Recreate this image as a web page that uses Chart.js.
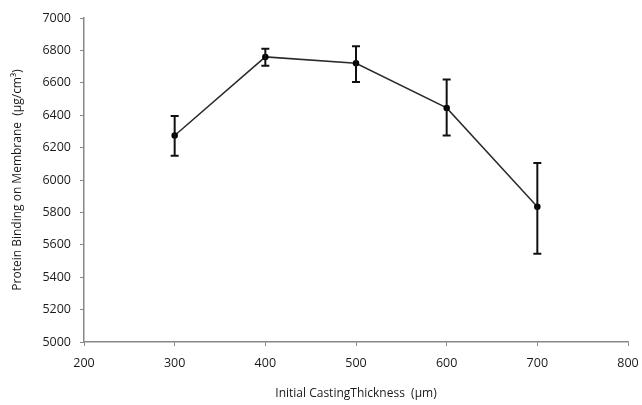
<!DOCTYPE html>
<html>
<head>
<meta charset="utf-8">
<script src="https://cdn.jsdelivr.net/npm/chart.js@4/dist/chart.umd.min.js"></script>
<style>
html,body{margin:0;padding:0;background:#fff;}
#wrap{width:642px;height:405px;}
</style>
</head>
<body>
<div id="wrap"><canvas id="c" width="642" height="405"></canvas></div>
<script>
const thickness = [300, 400, 500, 600, 700];
const binding = [6275, 6760, 6720, 6445, 5835];
const errLow = [6150, 6705, 6605, 6275, 5545];
const errHigh = [6395, 6810, 6825, 6620, 6105];
const xTitle = 'Initial CastingThickness  (\u00b5m)';
const yTitle = 'Protein Binding on Membrane  (\u00b5g/cm\u00b3)';

const errorBars = {
  id: 'errorBars',
  afterDatasetsDraw(chart) {
    const ctx = chart.ctx, xs = chart.scales.x, ys = chart.scales.y;
    ctx.save();
    ctx.strokeStyle = '#111';
    ctx.lineWidth = 2;
    thickness.forEach((t, i) => {
      const x = xs.getPixelForValue(t);
      const y1 = ys.getPixelForValue(errHigh[i]);
      const y2 = ys.getPixelForValue(errLow[i]);
      ctx.beginPath();
      ctx.moveTo(x, y1); ctx.lineTo(x, y2);
      ctx.moveTo(x - 4, y1); ctx.lineTo(x + 4, y1);
      ctx.moveTo(x - 4, y2); ctx.lineTo(x + 4, y2);
      ctx.stroke();
    });
    ctx.restore();
  }
};

const tickFont = {family: 'Open Sans', size: 12.5};
const titleFont = {family: 'Open Sans', size: 12};

new Chart(document.getElementById('c'), {
  type: 'scatter',
  data: {
    datasets: [{
      data: thickness.map((t, i) => ({x: t, y: binding[i]})),
      showLine: true,
      borderColor: '#2a2a2a',
      borderWidth: 1.5,
      pointRadius: 2.5,
      pointBackgroundColor: '#000',
      pointBorderColor: '#000'
    }]
  },
  options: {
    responsive: false,
    animation: false,
    layout: {padding: {top: 18, right: 14, left: 0, bottom: 0}},
    plugins: {legend: {display: false}, tooltip: {enabled: false}},
    scales: {
      x: {
        type: 'linear', min: 200, max: 800,
        ticks: {stepSize: 100, color: '#1a1a1a', font: tickFont, padding: 10, callback: v => String(v)},
        grid: {drawOnChartArea: false, drawTicks: true, tickLength: 4, color: '#888'},
        border: {display: true, color: '#888', width: 1.5},
        title: {display: true, text: xTitle, color: '#1a1a1a', font: titleFont, padding: {top: 13}},
        afterFit(s) { s.height = 63; s.paddingRight = 0; s.paddingLeft = 0; }
      },
      y: {
        min: 5000, max: 7000,
        ticks: {stepSize: 200, color: '#1a1a1a', font: tickFont, padding: 9, callback: v => String(v)},
        grid: {drawOnChartArea: false, drawTicks: true, tickLength: 4, color: '#888'},
        border: {display: true, color: '#888', width: 1.5},
        title: {display: true, text: yTitle, color: '#1a1a1a', font: titleFont, padding: {top: 10, bottom: 0}},
        afterFit(s) { s.width = 84; }
      }
    }
  },
  plugins: [errorBars]
});
</script>
</body>
</html>
